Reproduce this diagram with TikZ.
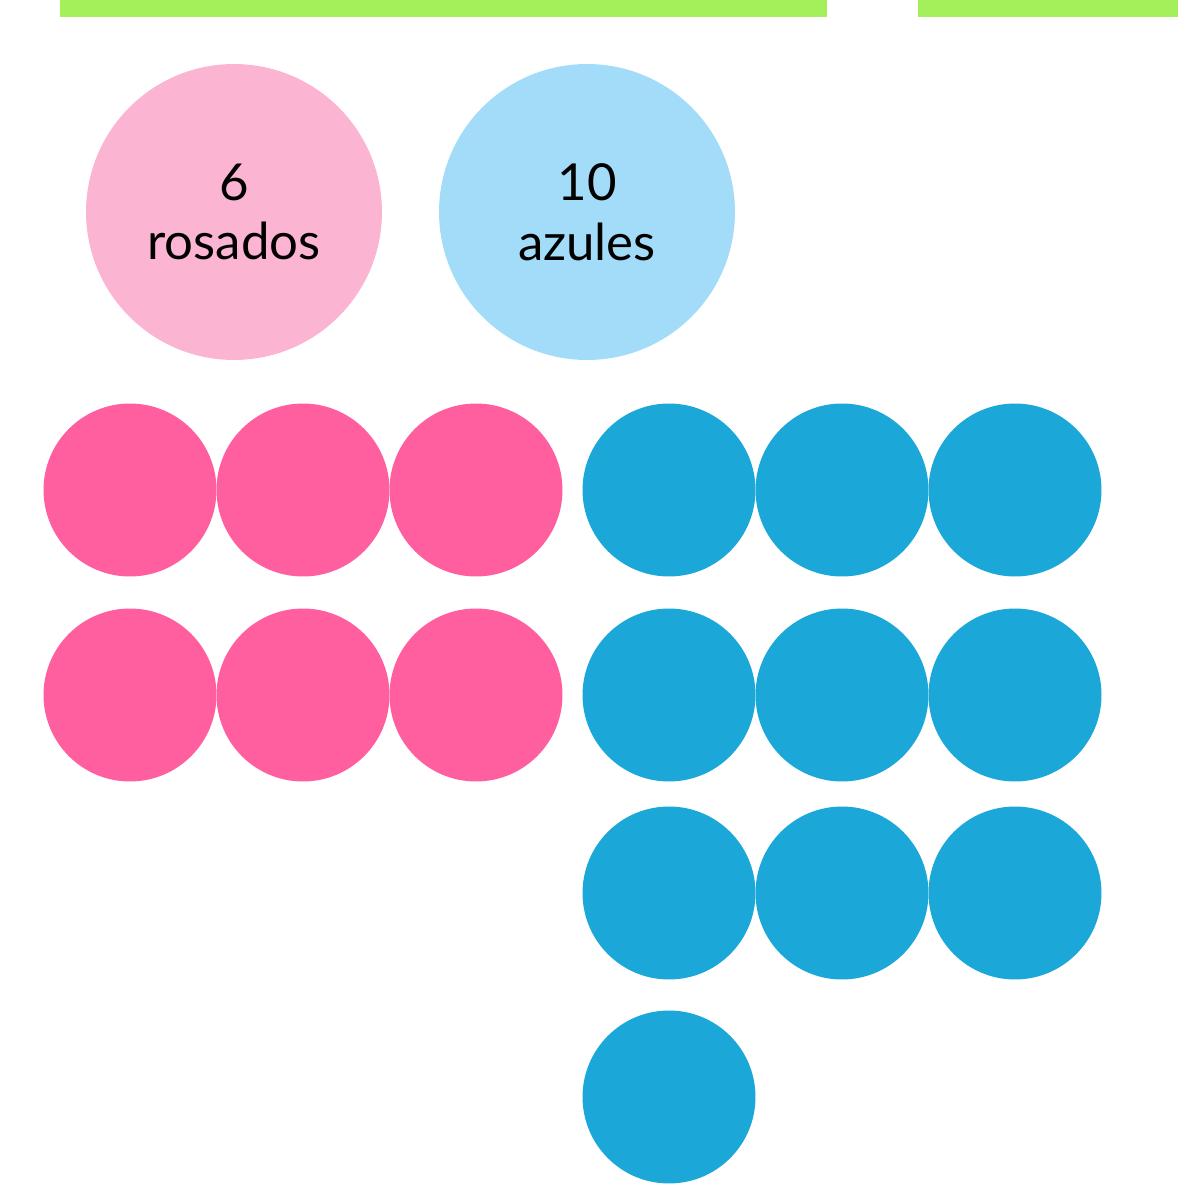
\documentclass[tikz,border=0pt]{standalone}
\usepackage{fontspec}
\setmainfont{Lato}
\usepackage{tikz}
\usetikzlibrary{positioning}
\definecolor{barra}{HTML}{A4F05A}
\definecolor{rosaclaro}{HTML}{FBB5D3}
\definecolor{azulclaro}{HTML}{A3DCF8}
\definecolor{rosa}{HTML}{FF5E9F}
\definecolor{azul}{HTML}{1BA8D8}
\tikzset{
    grupo/.style={
        circle,
        minimum size=5.92cm,
        inner sep=0pt,
        align=center,
        font=\fontsize{29}{34}\selectfont
    },
    ficha/.style={
        circle,
        minimum size=3.46cm,
        inner sep=0pt
    }
}

\begin{document}
\begin{tikzpicture}[
    x=0.02cm,
    y=-0.02cm
]
    \useasboundingbox (0,0) rectangle (1178,1192);

    % Barras
    \fill[barra] (60,0) rectangle (827,17);
    \fill[barra] (918,0) rectangle (1178,17);

    % Totales
    \node[grupo, fill=rosaclaro] (rosados) at (234,212) {6\\rosados};
    \node[grupo, fill=azulclaro] (azules)  at (587,212) {10\\azules};

    % Fichas rosadas
    \foreach \f/\y in {1/490, 2/695}
        \foreach \c/\x in {1/130, 2/303, 3/476}
            \node[ficha, fill=rosa] (r\f\c) at (\x,\y) {};

    % Fichas azules
    \foreach \f/\y in {1/490, 2/695, 3/893}
        \foreach \c/\x in {1/669, 2/842, 3/1015}
            \node[ficha, fill=azul] (a\f\c) at (\x,\y) {};
    \node[ficha, fill=azul] (a41) at (669,1097) {};

\end{tikzpicture}
\end{document}
